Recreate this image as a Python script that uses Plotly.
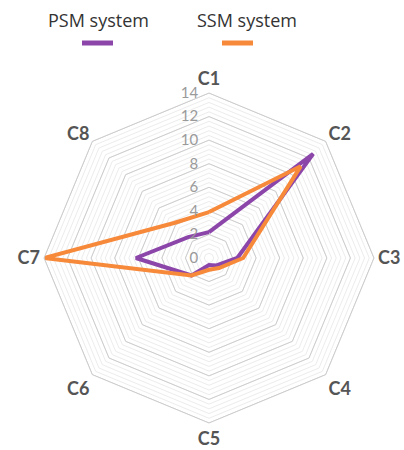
import plotly.graph_objects as go

categories = ["C1", "C2", "C3", "C4", "C5", "C6", "C7", "C8"]
psm_values = [2.2, 12.5, 2.4, 0.9, 0.6, 2.1, 6.2, 2.5]
ssm_values = [3.9, 11.0, 2.9, 1.2, 1.0, 2.1, 14.0, 4.2]
major_ticks = [0, 2, 4, 6, 8, 10, 12, 14]
minor_step = 0.4

PURPLE = "#8c46aa"
ORANGE = "#f7893a"

minor_vals = [round(k * minor_step, 1) for k in range(int(14 / minor_step) + 1)]
tick_text = [str(int(round(v))) if abs(v - round(v)) < 1e-9 and int(round(v)) in major_ticks else "" for v in minor_vals]

fig = go.Figure()

theta_closed = categories + [categories[0]]
for v in major_ticks[1:]:
    fig.add_trace(go.Scatterpolar(
        r=[v] * len(theta_closed), theta=theta_closed, mode="lines",
        line=dict(color="#cdcdcd", width=1), hoverinfo="skip", showlegend=False))

fig.add_trace(go.Scatterpolar(
    r=psm_values + [psm_values[0]], theta=theta_closed, mode="lines", name="PSM system",
    line=dict(color=PURPLE, width=4), showlegend=False))
fig.add_trace(go.Scatterpolar(
    r=ssm_values + [ssm_values[0]], theta=theta_closed, mode="lines", name="SSM system",
    line=dict(color=ORANGE, width=4), showlegend=False))

cx, cy, R = 209, 258, 165
W, H = 404, 450

fig.update_layout(
    width=W, height=H,
    margin=dict(l=0, r=0, t=0, b=0),
    paper_bgcolor="white", plot_bgcolor="white",
    polar=dict(
        domain=dict(x=[(cx - R) / W, (cx + R) / W], y=[(H - cy - R) / H, (H - cy + R) / H]),
        bgcolor="white",
        gridshape="linear",
        radialaxis=dict(
            range=[0, 14], tickvals=minor_vals, ticktext=tick_text,
            angle=90, tickangle=90, side="counterclockwise",
            showline=False, ticks="outside", ticklen=5, tickcolor="rgba(0,0,0,0)",
            gridcolor="#ececec", gridwidth=1,
            tickfont=dict(family="Lato", size=15, color="#9a9a9a"),
        ),
        angularaxis=dict(
            rotation=90, direction="clockwise", showgrid=False,
            showline=True, linecolor="#cdcdcd", linewidth=1, ticks="",
            tickfont=dict(family="Lato", size=18, color="#555555", weight="bold"),
        ),
    ),
    annotations=[
        dict(text="PSM system", x=98 / W, y=1 - 20 / H, xref="paper", yref="paper",
             xanchor="center", yanchor="middle",
             showarrow=False, font=dict(family="Open Sans", size=18, color="#333333")),
        dict(text="SSM system", x=247 / W, y=1 - 20 / H, xref="paper", yref="paper",
             xanchor="center", yanchor="middle",
             showarrow=False, font=dict(family="Open Sans", size=18, color="#333333")),
    ],
    shapes=[
        dict(type="line", xref="paper", yref="paper", x0=82 / W, x1=113 / W, y0=1 - 43 / H, y1=1 - 43 / H,
             line=dict(color=PURPLE, width=5)),
        dict(type="line", xref="paper", yref="paper", x0=222 / W, x1=253 / W, y0=1 - 43 / H, y1=1 - 43 / H,
             line=dict(color=ORANGE, width=5)),
    ],
)

fig.write_html("out.html", config={"displayModeBar": False},
               post_script="document.body.style.margin='0';document.body.style.padding='0';")
